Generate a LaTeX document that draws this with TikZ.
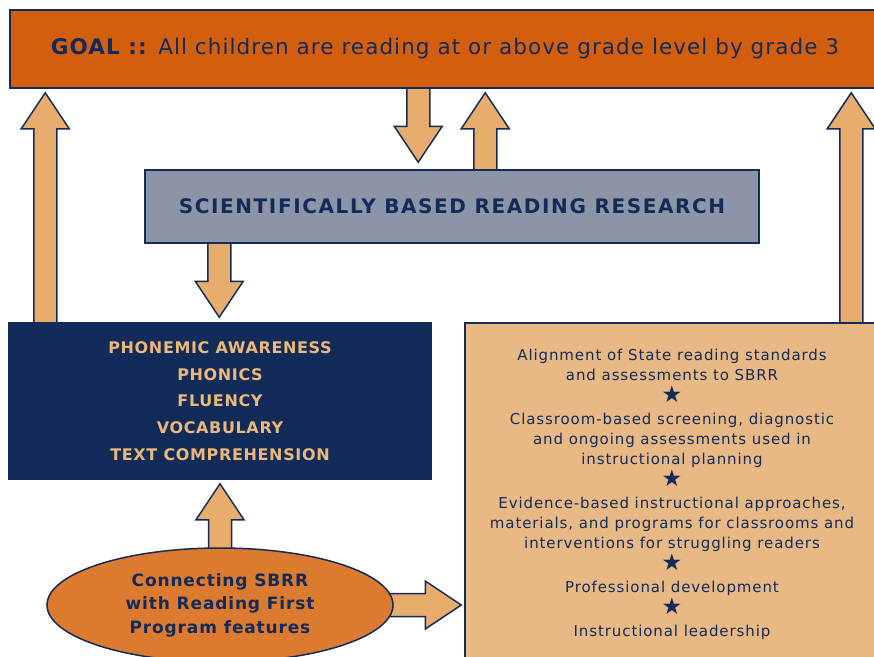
\documentclass[tikz,border=0pt]{standalone}
\usepackage{fontspec}
\setmainfont{DejaVu Sans}
\usetikzlibrary{positioning, calc, shapes.geometric, backgrounds}

\definecolor{navy}{HTML}{132B58}
\definecolor{goalorange}{HTML}{D35F0E}
\definecolor{researchgrey}{HTML}{8E94A8}
\definecolor{arrowtan}{HTML}{E8AC6C}
\definecolor{featuretan}{HTML}{E8B984}
\definecolor{linkorange}{HTML}{DC7A2F}
\definecolor{skilltext}{HTML}{EAB87A}

\tikzset{
  box/.style={draw=navy, line width=1.5pt, rectangle, inner sep=0pt},
  arrowbox/.style={draw=navy, fill=arrowtan, line width=1.5pt, line join=miter}
}

% block arrow from #1 to #2
\newcommand{\flowarrow}[2]{%
  \draw[arrowbox] let \p1=#1, \p2=#2, \n1={veclen(\x2-\x1,\y2-\y1)}, \n2={atan2(\y2-\y1,\x2-\x1)} in
    [shift={(\p1)}, rotate=\n2] (0pt,-11.5pt) -- (\n1-36pt,-11.5pt) -- (\n1-36pt,-24pt) -- (\n1,0pt)
    -- (\n1-36pt,24pt) -- (\n1-36pt,11.5pt) -- (0pt,11.5pt) -- cycle;}
\newcommand{\sep}{{\fontsize{23}{20}\selectfont ★}}

\begin{document}
\begin{tikzpicture}[x=1pt, y=-1pt]
        \useasboundingbox (0,0) rectangle (874,656);

        % Goal
        \node[box, fill=goalorange, minimum width=870pt, minimum height=78pt, text=navy,
              font=\fontsize{21.5}{25}\selectfont\addfontfeature{LetterSpace=5}] (goal) at (445,49)
              {\textbf{GOAL ::} All children are reading at or above grade level by grade 3};

        % Research
        \node[box, fill=researchgrey, minimum width=614pt, minimum height=73pt, text=navy,
              font=\bfseries\fontsize{20}{24}\selectfont\addfontfeature{LetterSpace=8}] (sbrr) at (452,206.5)
              {SCIENTIFICALLY BASED READING RESEARCH};

        % Five components
        \node[box, fill=navy, minimum width=422pt, minimum height=156pt, text=skilltext, align=center,
              font=\bfseries\fontsize{16}{26.75}\selectfont\addfontfeature{LetterSpace=4}] (skills) at (220,401)
              {PHONEMIC AWARENESS\\PHONICS\\FLUENCY\\VOCABULARY\\TEXT COMPREHENSION};

        % Program features
        \node[box, fill=featuretan, minimum width=414pt, minimum height=342pt, text=navy, align=center,
              font=\fontsize{15}{20}\selectfont\addfontfeature{LetterSpace=6}] (feat) at (672,494)
              {Alignment of State reading standards\\and assessments to SBRR\\[2pt]
               \sep\\[2pt]
               Classroom-based screening, diagnostic\\and ongoing assessments used in\\instructional planning\\[2pt]
               \sep\\[2pt]
               Evidence-based instructional approaches,\\materials, and programs for classrooms and\\interventions for struggling readers\\[2pt]
               \sep\\[2pt]
               Professional development\\[2pt]
               \sep\\[2pt]
               Instructional leadership};

        % Connecting ellipse
        \node[ellipse, draw=navy, line width=1.5pt, fill=linkorange, minimum width=346pt, minimum height=114pt,
              inner sep=0pt, text=navy, align=center,
              font=\bfseries\fontsize{17}{23.5}\selectfont\addfontfeature{LetterSpace=5}] (link) at (220,605)
              {Connecting SBRR\\with Reading First\\Program features};

        % Arrows
        \begin{scope}[on background layer]
          \flowarrow{($(skills.north west)+(37,2)$)}{($(goal.south west)+(36,4)$)}
          \flowarrow{($(goal.south west)+(409,-2)$)}{($(sbrr.north west)+(274,-7)$)}
          \flowarrow{($(sbrr.north west)+(341,2)$)}{($(goal.south west)+(476,4)$)}
          \flowarrow{($(feat.north west)+(387,2)$)}{($(goal.south west)+(842,4)$)}
          \flowarrow{($(sbrr.south west)+(75,-2)$)}{($(skills.north west)+(211,-5)$)}
          \flowarrow{($(link.north)+(0,6)$)}{($(skills.south)+(0,4)$)}
          \flowarrow{($(link.east)+(-6,0)$)}{($(feat.west |- link.east)+(-3,0)$)}
        \end{scope}
\end{tikzpicture}
\end{document}
